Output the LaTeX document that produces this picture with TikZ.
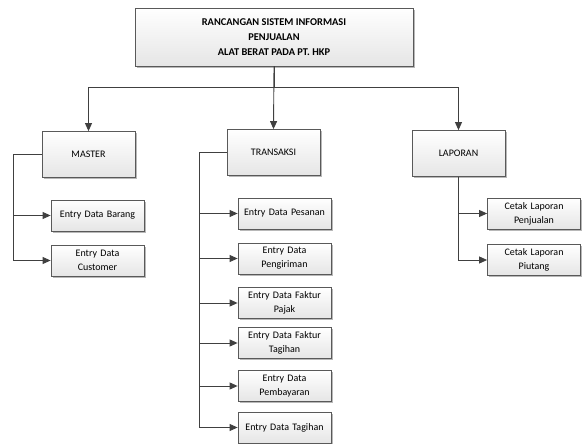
\documentclass[tikz,border=0pt]{standalone}
\usepackage{fontspec}
\setmainfont{Carlito}
\usepackage{tikz}
\usetikzlibrary{arrows.meta, shadows, positioning}

\begin{document}
\begin{tikzpicture}[x=1pt, y=-1pt, >={Triangle[length=8pt,width=7pt]},
    every node/.style={align=center},
    kotak/.style={draw=black!65, line width=0.8pt, top color=white, bottom color=black!10,
        drop shadow={shadow xshift=1.6pt, shadow yshift=-1.6pt, fill=black!35, opacity=0.8},
        inner sep=1pt, font=\fontsize{10}{14}\selectfont},
    menu/.style={kotak, minimum width=93pt, minimum height=46pt},
    sub/.style={kotak, minimum width=93pt, minimum height=31pt, text width=90pt},
    garis/.style={draw=black!75, line width=0.9pt}]
    \useasboundingbox ({0},{0}) rectangle ({584},{444});

    \node[kotak, minimum width=278pt, minimum height=58pt, font=\fontsize{10.4}{15}\selectfont\bfseries] (judul) at ({274},{37})
        {RANCANGAN SISTEM INFORMASI\\PENJUALAN\\ALAT BERAT PADA PT. HKP};

    \node[menu] (master) at ({88.5},{154.5}) {MASTER};
    \node[menu] (transaksi) at ({273.5},{152.5}) {TRANSAKSI};
    \node[menu] (laporan) at ({458.5},{153.5}) {LAPORAN};

    \node[sub] (barang) at ({97.5},{215.5}) {Entry Data Barang};
    \node[sub] (customer) at ({97.5},{260.5}) {Entry Data\\Customer};

    \node[sub] (pesanan) at ({284.5},{213.5}) {Entry Data Pesanan};
    \node[sub] (pengiriman) at ({284.5},{258.5}) {Entry Data\\Pengiriman};
    \node[sub] (pajak) at ({284.5},{303}) {Entry Data Faktur\\Pajak};
    \node[sub] (faktur) at ({284.5},{343}) {Entry Data Faktur\\Tagihan};
    \node[sub] (pembayaran) at ({284.5},{386}) {Entry Data\\Pembayaran};
    \node[sub] (tagihan) at ({284.5},{427.5}) {Entry Data Tagihan};

    \node[sub] (penjualan) at ({534},{213.5}) {Cetak Laporan\\Penjualan};
    \node[sub] (piutang) at ({534},{260}) {Cetak Laporan\\Piutang};

    \draw[garis, ->] (judul.south) -- ++({0},{21}) -| (master.north);
    \draw[garis, ->] (judul.south) -- ++({0},{21}) -| (laporan.north);
    \draw[garis, ->] (judul.south) -- (transaksi.north);

    \draw[garis, ->] (master.west) -- ++({-28},{0}) |- (barang.west);
    \draw[garis, ->] (master.west) -- ++({-28},{0}) |- (customer.west);

    \foreach \n in {pesanan, pengiriman, pajak, faktur, pembayaran, tagihan}
        \draw[garis, ->] (transaksi.west) -- ++({-27},{0}) |- (\n.west);

    \draw[garis, ->] (laporan.south) |- (penjualan.west);
    \draw[garis, ->] (laporan.south) |- (piutang.west);
\end{tikzpicture}
\end{document}
